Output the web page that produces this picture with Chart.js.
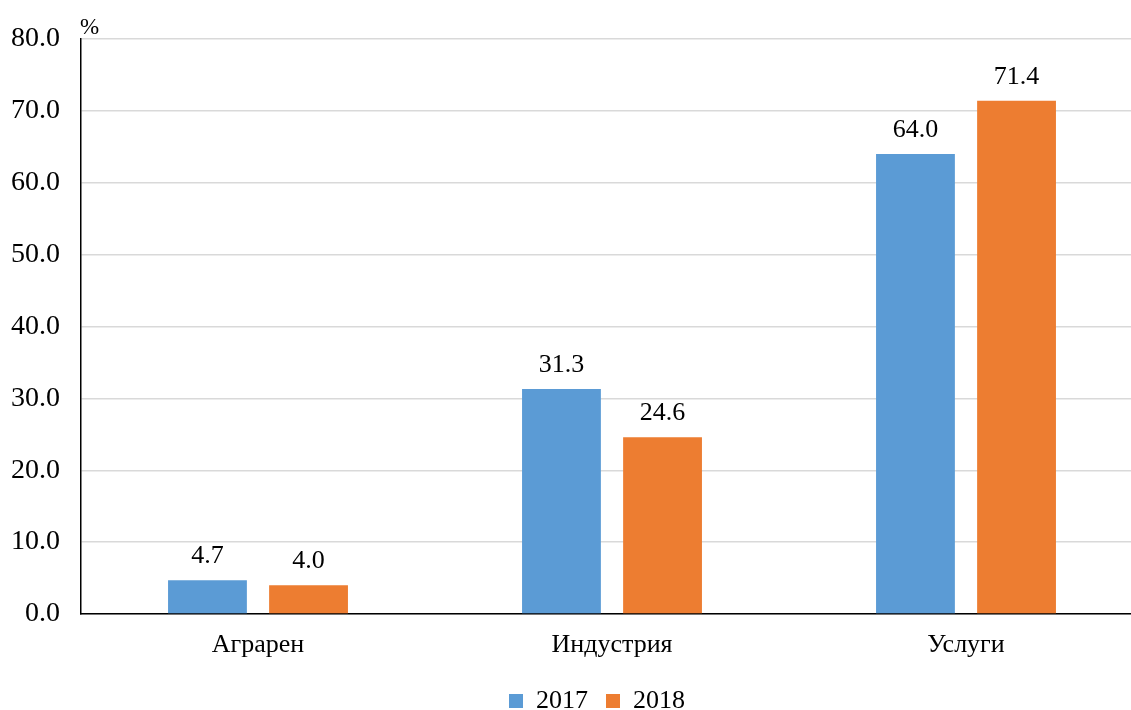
<!DOCTYPE html>
<html>
<head>
<meta charset="utf-8">
<script src="https://cdn.jsdelivr.net/npm/chart.js@4.4.1/dist/chart.umd.min.js"></script>
<style>
  body { margin: 0; background: #fff; }
  #wrap { width: 1131px; height: 710px; overflow: hidden; }
</style>
</head>
<body>
<div id="wrap"><canvas id="myChart" width="1194" height="724"></canvas></div>
<script>
var categories = ['Аграрен', 'Индустрия', 'Услуги'];
var years = ['2017', '2018'];
var values2017 = [4.7, 31.3, 64.0];
var values2018 = [4.0, 24.6, 71.4];
var yTicks = [0, 10, 20, 30, 40, 50, 60, 70, 80];

var FONT = '"Liberation Serif", "Times New Roman", serif';

// labels above bars + the "%" unit sign
var barLabels = {
  id: 'barLabels',
  afterDatasetsDraw: function (chart) {
    var ctx = chart.ctx;
    ctx.save();
    ctx.font = '26px ' + FONT;
    ctx.fillStyle = '#000';
    ctx.textAlign = 'center';
    ctx.textBaseline = 'bottom';
    chart.data.datasets.forEach(function (ds, i) {
      chart.getDatasetMeta(i).data.forEach(function (bar, j) {
        ctx.fillText(ds.data[j].toFixed(1), bar.x, bar.y - 11);
      });
    });
    ctx.font = '23px ' + FONT;
    ctx.textAlign = 'left';
    ctx.textBaseline = 'alphabetic';
    ctx.fillText('%', chart.chartArea.left - 1, chart.chartArea.top - 5);
    ctx.restore();
  }
};

new Chart(document.getElementById('myChart'), {
  type: 'bar',
  data: {
    labels: categories,
    datasets: [
      { label: years[0], data: values2017, backgroundColor: '#5b9bd5' },
      { label: years[1], data: values2018, backgroundColor: '#ed7d31' }
    ]
  },
  options: {
    responsive: false,
    animation: false,
    devicePixelRatio: 1,
    layout: { padding: { top: 39, right: 0, left: 0, bottom: 0 } },
    datasets: { bar: { categoryPercentage: 0.571, barPercentage: 0.78 } },
    scales: {
      x: {
        grid: { display: false, drawTicks: false },
        border: { color: '#000', width: 1.5 },
        ticks: { color: '#000', font: { family: FONT, size: 26 }, padding: 16 },
        afterFit: function (s) { s.height = 56; }
      },
      y: {
        min: 0,
        max: 80,
        afterBuildTicks: function (s) { s.ticks = yTicks.map(function (v) { return { value: v }; }); },
        grid: { color: '#d9d9d9', lineWidth: 1.5, drawTicks: false },
        border: { color: '#000', width: 1.5 },
        ticks: {
          color: '#000',
          font: { family: FONT, size: 28 },
          padding: 21,
          callback: function (v) { return v.toFixed(1); }
        },
        afterFit: function (s) { s.width = 81; }
      },
      // empty right-hand gap of the plot area
      gap: {
        position: 'right',
        grid: { display: false, drawTicks: false },
        border: { display: false },
        ticks: { display: false },
        afterFit: function (s) { s.width = 51; }
      }
    },
    plugins: {
      legend: {
        position: 'bottom',
        labels: {
          color: '#000',
          font: { family: FONT, size: 26 },
          boxWidth: 14,
          boxHeight: 14,
          padding: 18
        }
      },
      tooltip: { enabled: false }
    }
  },
  plugins: [barLabels]
});
</script>
</body>
</html>
